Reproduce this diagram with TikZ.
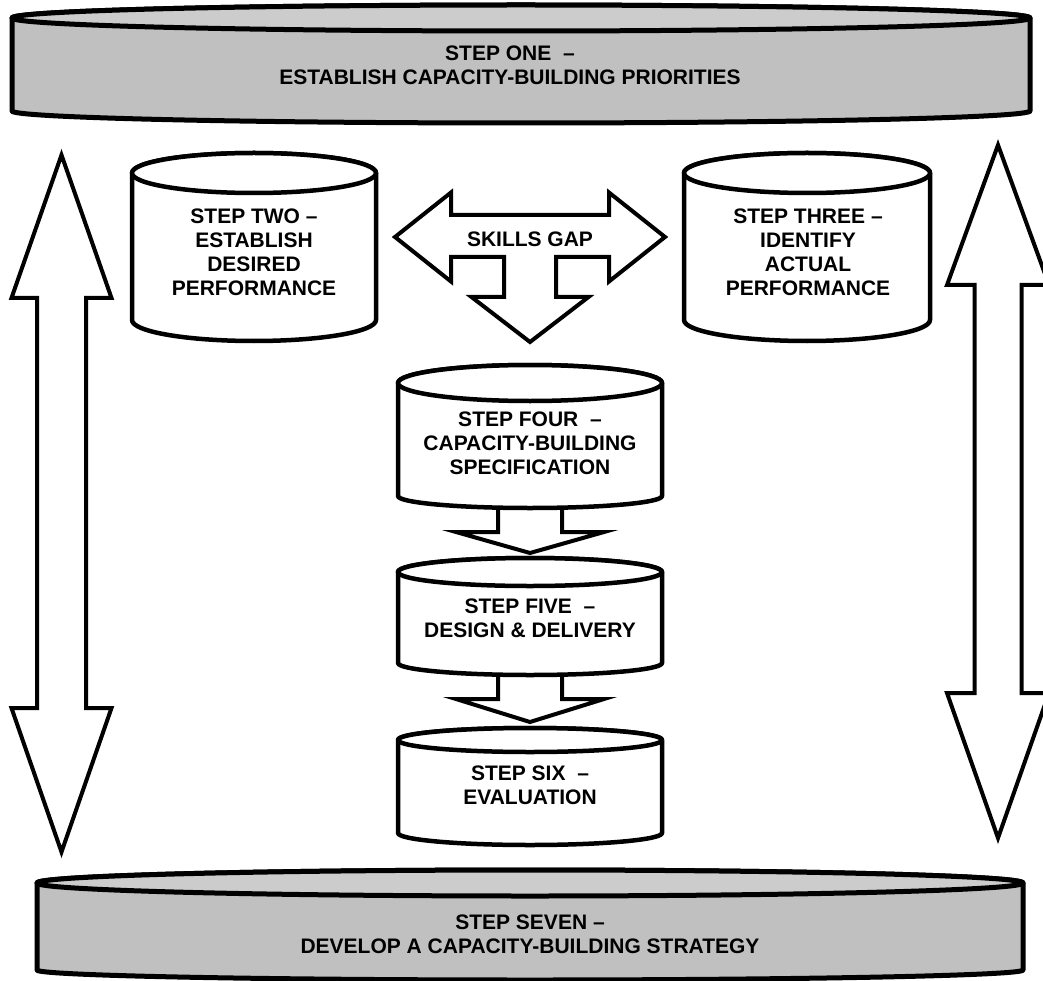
\documentclass[tikz,border=0pt]{standalone}
\usepackage{fontspec}
\setmainfont{Liberation Sans}
\usetikzlibrary{calc}

\definecolor{drumgray}{HTML}{C0C0C0}
\definecolor{drumlid}{HTML}{CCCCCC}

\tikzset{
  drumbody/.style={inner sep=0pt, outer sep=0pt},
  steptext/.style={font=\fontsize{21}{24}\selectfont\bfseries, align=center, inner sep=0pt, text=black},
  outline/.style={draw=black, line width=4.5pt, line join=round},
  thickoutline/.style={draw=black, line width=5pt, line join=round},
  blockarrow/.style={draw=black, fill=white, line width=4pt, line join=miter},
}

% cylinder drawn around a body node: #1 node, #2 lid radius, #3 base radius,
% #4 body fill, #5 lid fill, #6 outline style
\newcommand\drawdrum[6]{%
  \path[#6, fill=#4] let \p1=(#1.north west), \p2=(#1.south east), \n1={(\x2-\x1)/2} in
    (\p1) -- (\x1,\y2)
    arc[start angle=180, end angle=360, x radius=\n1, y radius=#3pt]
    -- (\x2,\y1)
    arc[start angle=0, end angle=180, x radius=\n1, y radius=#2pt] -- cycle;
  \path[#6, fill=#5] let \p1=(#1.north west), \p2=(#1.south east), \n1={(\x2-\x1)/2} in
    (#1.north) ellipse[x radius=\n1, y radius=#2pt];
}

\begin{document}
\begin{tikzpicture}[x=1pt, y=1pt]
\useasboundingbox (0,0) rectangle (1043,-981);

% cylinder bodies (from lid centre to base centre)
\node[drumbody, minimum width=1018pt, minimum height=93pt]  (one)   at (521,-64.5)  {};
\node[drumbody, minimum width=244pt,  minimum height=147pt] (two)   at (254,-246.5) {};
\node[drumbody, minimum width=246pt,  minimum height=147pt] (three) at (807,-246.5) {};
\node[drumbody, minimum width=264pt,  minimum height=113pt] (four)  at (530,-439.5) {};
\node[drumbody, minimum width=264pt,  minimum height=91pt]  (five)  at (530,-617.5) {};
\node[drumbody, minimum width=264pt,  minimum height=93pt]  (six)   at (530,-786.5) {};
\node[drumbody, minimum width=986pt,  minimum height=87pt]  (seven) at (530,-926.5) {};

% ends of the two long double arrows at the sides
\coordinate (ltop) at (61.5,-155);
\coordinate (lbot) at (61.5,-852);
\coordinate (rtop) at (998,-145);
\coordinate (rbot) at (998,-838);
\coordinate (gapc) at (530,-237);

% left double arrow
\path[blockarrow] let \p1=(ltop), \p2=(lbot) in
  (\p1) -- (\x1+50pt,\y1-143pt) -- (\x1+24.5pt,\y1-143pt) -- (\x1+24.5pt,\y2+144pt)
  -- (\x1+50pt,\y2+144pt) -- (\p2) -- (\x1-50pt,\y2+144pt) -- (\x1-24.5pt,\y2+144pt)
  -- (\x1-24.5pt,\y1-143pt) -- (\x1-50pt,\y1-143pt) -- cycle;

% right double arrow
\path[blockarrow] let \p1=(rtop), \p2=(rbot) in
  (\p1) -- (\x1+51pt,\y1-140pt) -- (\x1+23.5pt,\y1-140pt) -- (\x1+23.5pt,\y2+145pt)
  -- (\x1+51pt,\y2+145pt) -- (\p2) -- (\x1-51pt,\y2+145pt) -- (\x1-23.5pt,\y2+145pt)
  -- (\x1-23.5pt,\y1-140pt) -- (\x1-51pt,\y1-140pt) -- cycle;

% skills gap: three-way arrow
\path[blockarrow, shift={(gapc)}]
  (-135,0) -- (-79,44.5) -- (-79,22) -- (79,22) -- (79,44.5) -- (135,0)
  -- (79,-44.5) -- (79,-20) -- (26,-20) -- (26,-60) -- (58.5,-60) -- (0,-105)
  -- (-58.5,-60) -- (-26,-60) -- (-26,-20) -- (-79,-20) -- (-79,-44.5) -- cycle;

% step four to step five
\path[blockarrow] let \p1=(four.south), \p2=([yshift=19pt]five.north) in
  (\x1-32pt,\y1) -- (\x1-32pt,\y2+21pt) -- (\x1-74pt,\y2+21pt) -- (\p2)
  -- (\x1+74pt,\y2+21pt) -- (\x1+32pt,\y2+21pt) -- (\x1+32pt,\y1) -- cycle;

% step five to step six
\path[blockarrow] let \p1=(five.south), \p2=([yshift=18pt]six.north) in
  (\x1-32pt,\y1) -- (\x1-32pt,\y2+23pt) -- (\x1-74pt,\y2+23pt) -- (\p2)
  -- (\x1+74pt,\y2+23pt) -- (\x1+32pt,\y2+23pt) -- (\x1+32pt,\y1) -- cycle;

% cylinders
\drawdrum{one}{13}{12}{drumgray}{drumlid}{thickoutline}
\drawdrum{two}{20}{21}{white}{white}{outline}
\drawdrum{three}{20}{21}{white}{white}{outline}
\drawdrum{four}{18}{12}{white}{white}{outline}
\drawdrum{five}{14}{12}{white}{white}{outline}
\drawdrum{six}{12}{12}{white}{white}{outline}
\drawdrum{seven}{13}{10}{drumgray}{drumlid}{thickoutline}

% labels
\node[steptext] (onetext)   at ($(one.center)+(-11,-1)$)  {STEP ONE \ –\\ESTABLISH CAPACITY-BUILDING PRIORITIES};
\node[steptext] (twotext)   at ($(two.center)+(0,-5.5)$)  {STEP TWO –\\ESTABLISH\\DESIRED\\PERFORMANCE};
\node[steptext] (threetext) at ($(three.center)+(1,-5.5)$) {STEP THREE –\\IDENTIFY\\ACTUAL\\PERFORMANCE};
\node[steptext] (gap)       at ($(gapc)+(0,-2)$)          {SKILLS GAP};
\node[steptext] (fourtext)  at ($(four.center)+(0,-4)$)   {STEP FOUR \ –\\CAPACITY-BUILDING\\SPECIFICATION};
\node[steptext] (fivetext)  at ($(five.center)+(0,-1)$)   {STEP FIVE \ –\\DESIGN \& DELIVERY};
\node[steptext] (sixtext)   at ($(six.center)+(0,1.5)$)   {STEP SIX \ –\\EVALUATION};
\node[steptext] (seventext) at ($(seven.center)+(0,-7.5)$) {STEP SEVEN –\\DEVELOP A CAPACITY-BUILDING STRATEGY};
\end{tikzpicture}
\end{document}
